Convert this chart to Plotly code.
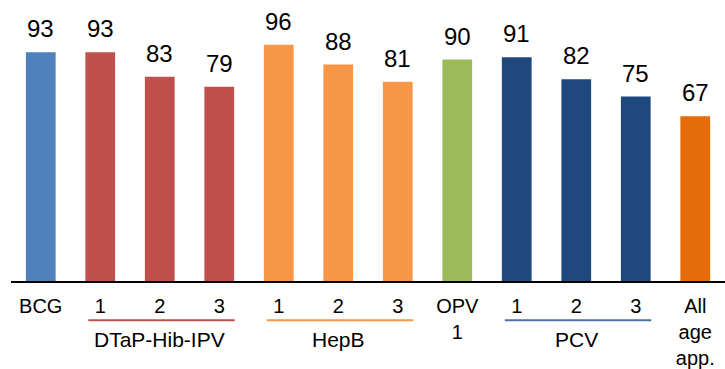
import plotly.graph_objects as go

categories = ["BCG", "D1", "D2", "D3", "H1", "H2", "H3", "OPV1", "P1", "P2", "P3", "All"]
tick_labels = ["BCG", "1", "2", "3", "1", "2", "3", "OPV<br>1", "1", "2", "3", "All<br>age<br>app."]
values = [93, 93, 83, 79, 96, 88, 81, 90, 91, 82, 75, 67]
bar_colors = ["#4F81BD", "#C0504D", "#C0504D", "#C0504D", "#F79646", "#F79646", "#F79646",
              "#9BBB59", "#1F497D", "#1F497D", "#1F497D", "#E46C0A"]

groups = ["DTaP-Hib-IPV", "HepB", "PCV"]
group_start = [1, 4, 8]
group_end = [3, 6, 10]
group_colors = ["#C0504D", "#F79646", "#4F6FA8"]

FONT = "Arial, Liberation Sans, sans-serif"
x_idx = list(range(len(categories)))

fig = go.Figure()
fig.add_trace(go.Bar(x=x_idx, y=values, marker=dict(color=bar_colors, line=dict(width=0)),
                     width=0.5, hoverinfo="skip"))

for xi, v in zip(x_idx, values):
    fig.add_annotation(x=xi, y=v, text=str(v), showarrow=False, yanchor="bottom",
                       yshift=8, font=dict(family=FONT, size=24, color="#000000"))

for g, s, e, c in zip(groups, group_start, group_end, group_colors):
    fig.add_shape(type="line", xref="x", yref="paper", x0=s - 0.2, x1=e + 0.26,
                  y0=-0.16, y1=-0.16, line=dict(color=c, width=2))
    fig.add_annotation(x=(s + e) / 2, y=-0.237, xref="x", yref="paper", text=g,
                       showarrow=False, yanchor="middle",
                       font=dict(family=FONT, size=21, color="#000000"))

fig.update_layout(
    width=725, height=369,
    margin=dict(l=11, r=0, t=35, b=86),
    plot_bgcolor="white", paper_bgcolor="white",
    showlegend=False, bargap=0.5,
    xaxis=dict(tickmode="array", tickvals=x_idx, ticktext=tick_labels,
               range=[-0.5, len(categories) - 0.5],
               showline=True, linecolor="#000000", linewidth=2,
               showgrid=False, zeroline=False, ticks="", ticklabelstandoff=6,
               tickfont=dict(family=FONT, size=20, color="#000000")),
    yaxis=dict(range=[0, 100], visible=False, showgrid=False, zeroline=False),
)

fig.write_html("out.html", config={"displayModeBar": False},
               post_script="document.body.style.margin='0';")
